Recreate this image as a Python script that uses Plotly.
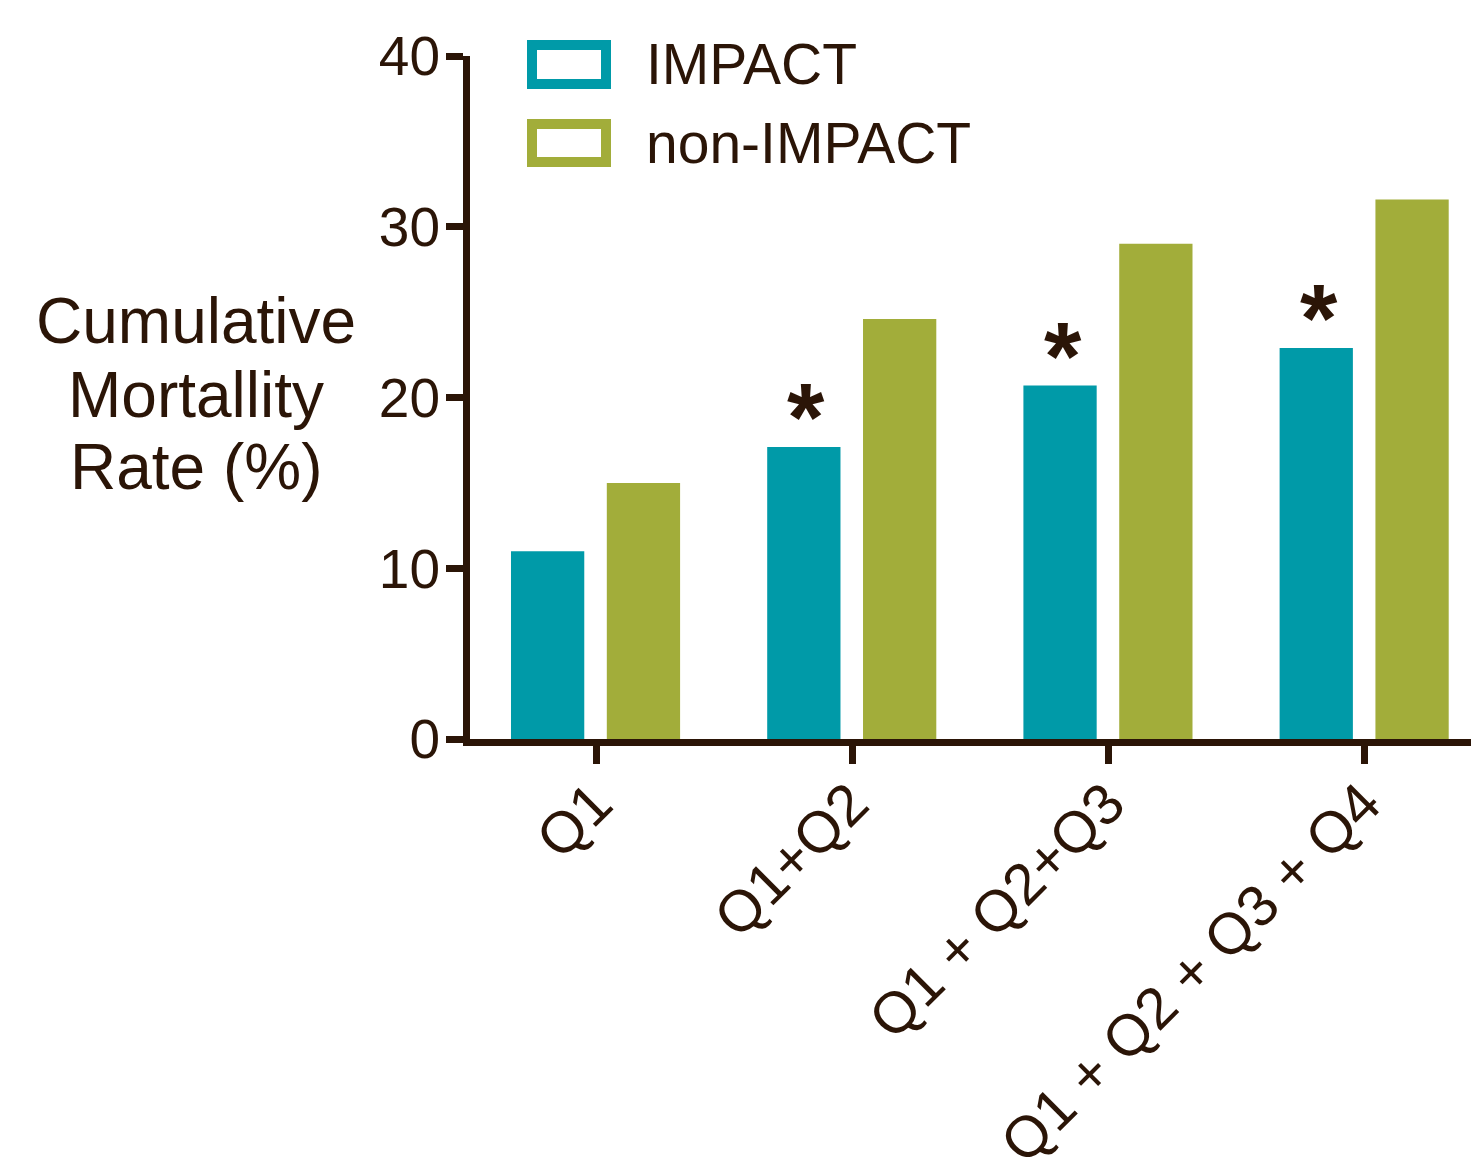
import plotly.graph_objects as go

# ---- data ----
categories = ["Q1", "Q1+Q2", "Q1 + Q2+Q3", "Q1 + Q2 + Q3 + Q4"]
impact = [11.0, 17.1, 20.7, 22.9]
non_impact = [15.0, 24.6, 29.0, 31.6]
significant = [False, True, True, True]
y_ticks = [0, 10, 20, 30, 40]
series_names = ["IMPACT", "non-IMPACT"]
title_lines = ["Cumulative", "Mortallity", "Rate (%)"]

# ---- style ----
TEAL = "#009AA8"
OLIVE = "#A2AD3A"
INK = "#2B1507"
FONT = "Liberation Sans, Arial, sans-serif"
W, H = 1471, 1157
L, R, T, B = 470, 0, 56, 418
PW, PH = W - L - R, H - T - B

BAR_W = 0.286
OFF_IMPACT = -0.332
OFF_NON = 0.042

def px_x(px):
    return (px - L) / PW

def px_y(py):
    return (H - B - py) / PH

xidx = list(range(len(categories)))

fig = go.Figure()
fig.add_trace(go.Bar(x=xidx, y=impact, name=series_names[0], marker_color=TEAL,
                     marker_line_width=0, width=BAR_W, offset=OFF_IMPACT))
fig.add_trace(go.Bar(x=xidx, y=non_impact, name=series_names[1], marker_color=OLIVE,
                     marker_line_width=0, width=BAR_W, offset=OFF_NON))

# significance asterisks
for i, (v, s) in enumerate(zip(impact, significant)):
    if s:
        fig.add_annotation(x=i + OFF_IMPACT + BAR_W / 2 + 0.01, y=v, xref="x", yref="y",
                           text="<b>*</b>", showarrow=False, yanchor="bottom",
                           yshift=-25, font=dict(family=FONT, size=96, color=INK))

# y-axis title (horizontal, three lines)
for k, (line, ypx) in enumerate(zip(title_lines, [321, 395, 467])):
    fig.add_annotation(x=px_x(196), y=px_y(ypx), xref="paper", yref="paper",
                       text=line, showarrow=False, xanchor="center", yanchor="middle",
                       font=dict(family=FONT, size=64, color=INK))

# manual legend
legend_boxes = [(45, 84), (124, 162)]
for name, color, (y0, y1) in zip(series_names, [TEAL, OLIVE], legend_boxes):
    fig.add_shape(type="rect", xref="paper", yref="paper",
                  x0=px_x(532), x1=px_x(606), y0=px_y(y1), y1=px_y(y0),
                  line=dict(color=color, width=10), fillcolor="white")
    fig.add_annotation(x=px_x(644), y=px_y((y0 + y1) / 2), xref="paper", yref="paper",
                       text=name, showarrow=False, xanchor="left", yanchor="middle",
                       font=dict(family=FONT, size=57, color=INK))

fig.update_layout(
    width=W, height=H,
    margin=dict(l=L, r=R, t=T, b=B, autoexpand=False),
    plot_bgcolor="white", paper_bgcolor="white",
    showlegend=False,
    barmode="overlay",
    font=dict(family=FONT, color=INK),
)
fig.update_xaxes(
    type="linear", range=[-0.492, 3.415],
    tickmode="array", tickvals=xidx, ticktext=categories,
    tickangle=-45, tickfont=dict(family=FONT, size=58, color=INK),
    ticklabelstandoff=-18, ticklabelshift=-1,
    showline=True, linecolor=INK, linewidth=7,
    ticks="outside", ticklen=18, tickwidth=7, tickcolor=INK,
    showgrid=False, zeroline=False,
)
fig.update_yaxes(
    range=[0, 40], tickmode="array", tickvals=y_ticks,
    tickfont=dict(family=FONT, size=55, color=INK),
    ticklabelstandoff=-5, ticklabelshift=0,
    showline=True, linecolor=INK, linewidth=7,
    ticks="outside", ticklen=17, tickwidth=7, tickcolor=INK,
    showgrid=False, zeroline=False,
)

fig.write_html(
    "out.html",
    config={"displayModeBar": False},
    post_script="document.body.style.margin='0';document.body.style.overflow='hidden';",
)
